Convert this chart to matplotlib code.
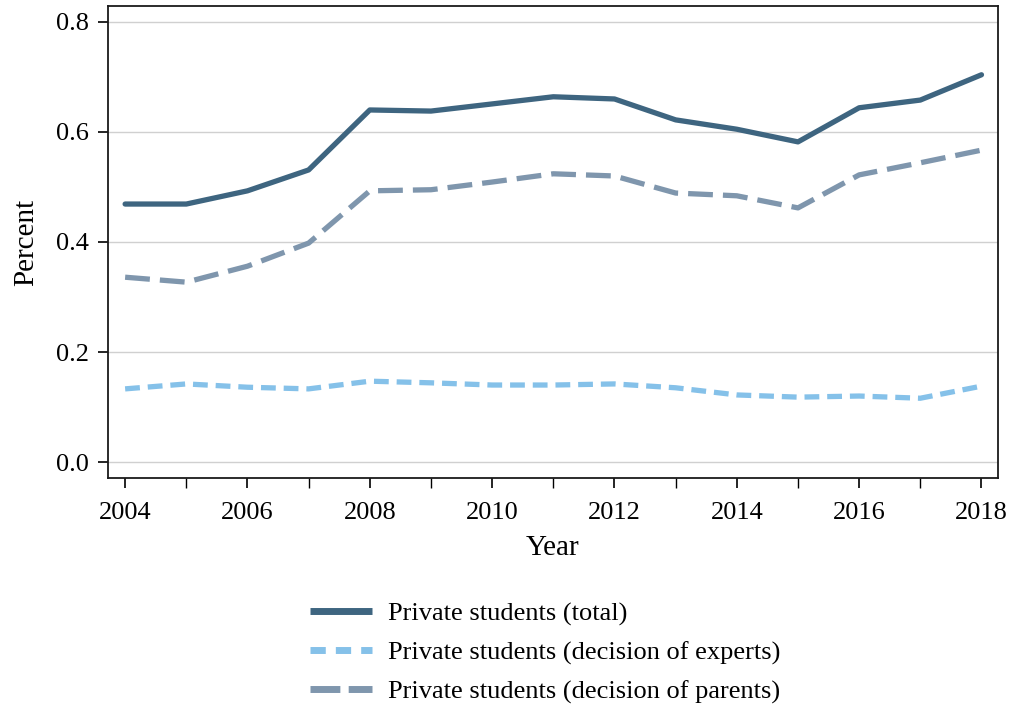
import matplotlib
matplotlib.use("Agg")
import matplotlib.pyplot as plt
from matplotlib.ticker import MultipleLocator, FormatStrFormatter

years = list(range(2004, 2019))
total = [0.469, 0.469, 0.493, 0.531, 0.640, 0.638, 0.651, 0.664, 0.660,
         0.622, 0.605, 0.582, 0.644, 0.658, 0.704]
experts = [0.133, 0.142, 0.136, 0.133, 0.147, 0.144, 0.140, 0.140, 0.142,
           0.135, 0.122, 0.118, 0.120, 0.116, 0.138]
parents = [0.336, 0.327, 0.356, 0.398, 0.493, 0.495, 0.509, 0.524, 0.520,
           0.489, 0.484, 0.462, 0.522, 0.544, 0.567]
labels = ["Private students (total)",
          "Private students (decision of experts)",
          "Private students (decision of parents)"]

plt.rcParams["font.family"] = ["Liberation Serif", "DejaVu Serif"]

fig = plt.figure(figsize=(10.14, 7.06), dpi=100)
ax = fig.add_axes([108 / 1014, 1 - 478 / 706, 890 / 1014, 472 / 706])

lw = 3.8
ax.plot(years, total, color="#3e6580", lw=lw, solid_capstyle="round",
        label=labels[0], zorder=3)
ax.plot(years, experts, color="#85c1e9", lw=lw, dashes=(2.8, 1.5),
        label=labels[1], zorder=3)
ax.plot(years, parents, color="#7f96ad", lw=lw, dashes=(4.7, 1.9),
        label=labels[2], zorder=3)

ax.set_xlim(2003.72, 2018.27)
ax.set_ylim(-0.029, 0.829)
ax.xaxis.set_major_locator(MultipleLocator(2))
ax.xaxis.set_minor_locator(MultipleLocator(1))
ax.yaxis.set_major_locator(MultipleLocator(0.2))
ax.yaxis.set_major_formatter(FormatStrFormatter("%.1f"))
ax.grid(axis="y", color="#d0d0d0", lw=1.0, zorder=0)
ax.tick_params(axis="both", which="major", labelsize=19, length=7, width=1.2,
               direction="out")
ax.tick_params(axis="x", which="major", pad=10)
ax.tick_params(axis="y", which="major", pad=7)
ax.tick_params(axis="x", which="minor", length=7, width=1.0)
for s in ax.spines.values():
    s.set_linewidth(1.3)
    s.set_color("#1a1a1a")

ax.set_xlabel("Year", fontsize=21, labelpad=8)
ax.set_ylabel("Percent", fontsize=21, labelpad=12)

leg = fig.legend(loc="upper left", bbox_to_anchor=(286 / 1014, 1 - 578 / 706),
                 frameon=False, fontsize=19, handlelength=2.35,
                 handletextpad=0.6, labelspacing=0.57)
# heavier legend keys with their own dash rhythm
key_dashes = [None, (2.2, 1.45), (4.3, 1.2)]
for line, d in zip(leg.get_lines(), key_dashes):
    line.set_linewidth(5.0)
    line.set_solid_capstyle("butt")
    if d is not None:
        line.set_dashes(d)

fig.savefig("out.png", dpi=100)
